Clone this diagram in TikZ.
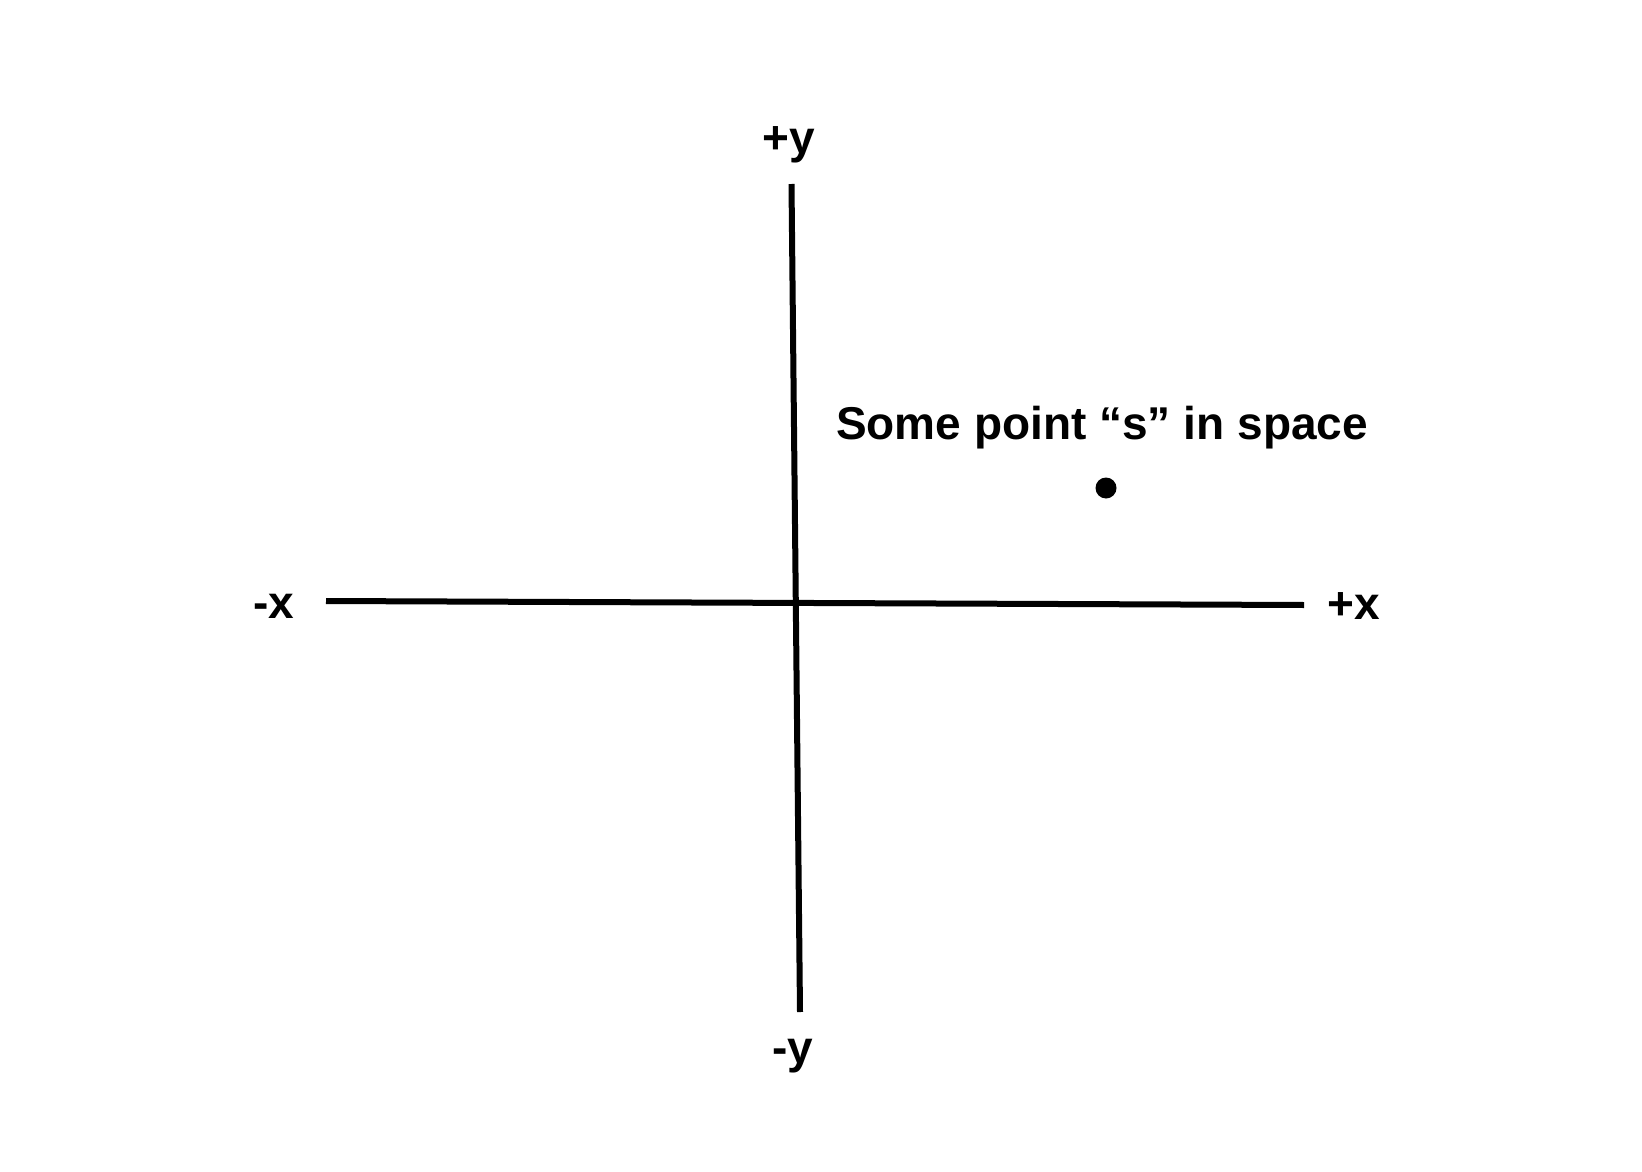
\documentclass[tikz,border=0pt]{standalone}
\usepackage{fontspec}
\setmainfont{Liberation Sans}
\usetikzlibrary{positioning}

\begin{document}
\begin{tikzpicture}[x=1pt,y=-1pt,
    axis/.style={line width=6pt},
    axislabel/.style={font=\fontsize{46}{50}\selectfont\bfseries,inner sep=0pt},
    pointdot/.style={circle,fill=black,inner sep=0pt,minimum size=21pt}
]
    \useasboundingbox (0,0) rectangle (1642,1172);
    % axis end points
    \coordinate (ytop) at (791.5,184);
    \coordinate (ybot) at (800,1012);
    \coordinate (xleft) at (326,601);
    \coordinate (xright) at (1304,605);
    \draw[axis] (ytop)--(ybot);
    \draw[axis] (xleft)--(xright);
    % labels
    \node[axislabel] (py) at (789,145) {+y};
    \node[axislabel] (my) at (793,1056) {-y};
    \node[axislabel] (mx) at (274,606) {-x};
    \node[axislabel] (px) at (1354,606) {+x};
    % the point
    \node[axislabel,anchor=base] (lbl) at (1102,439) {Some point “s” in space};
    \node[pointdot] (s) at (1106,488) {};
\end{tikzpicture}
\end{document}
